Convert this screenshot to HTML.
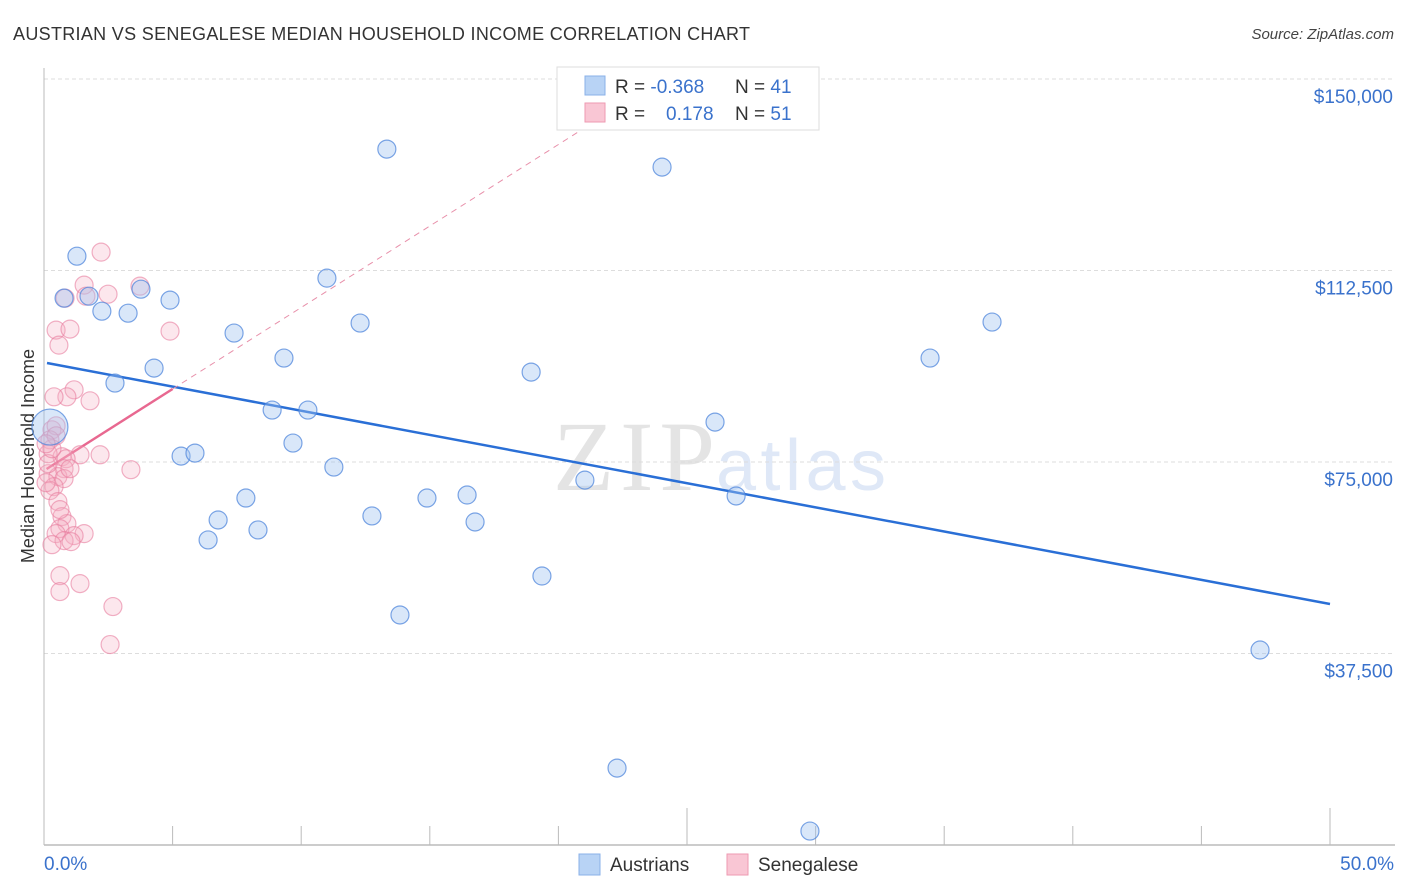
<!DOCTYPE html>
<html><head><meta charset="utf-8"><style>
body{margin:0;background:#fff;font-family:"Liberation Sans",sans-serif;}
svg{display:block}
</style></head><body>
<svg id="chart" width="1406" height="892" viewBox="0 0 1406 892" xmlns="http://www.w3.org/2000/svg">
<text x="13" y="40" font-size="18" fill="#333" textLength="737">AUSTRIAN VS SENEGALESE MEDIAN HOUSEHOLD INCOME CORRELATION CHART</text>
<text x="1394" y="39" font-size="15" fill="#444" font-style="italic" text-anchor="end">Source: ZipAtlas.com</text>
<g>
<text x="553" y="490" font-family="Liberation Serif,serif" font-size="100" fill="#e4e4e4" textLength="162">ZIP</text>
<text x="716" y="490" font-size="72" fill="#dfe8f7" textLength="170">atlas</text>
</g>
<g id="grid"></g>
<g id="axes"></g>
<text transform="translate(34,456) rotate(-90)" font-size="18" fill="#333" text-anchor="middle">Median Household Income</text>
<g id="trend"></g>
<g id="points"></g>
<g>
<rect x="557" y="67" width="262" height="63" fill="#fff" stroke="#ddd"/>
<rect x="585" y="76" width="20" height="19" fill="#b8d3f5" stroke="#8ab0e8"/>
<text x="615" y="93" font-size="19" fill="#333">R = <tspan fill="#3a72cc">-0.368</tspan></text>
<text x="735" y="93" font-size="19" fill="#333">N = <tspan fill="#3a72cc">41</tspan></text>
<rect x="585" y="103" width="20" height="19" fill="#f9c6d4" stroke="#ee9ab2"/>
<text x="615" y="120" font-size="19" fill="#333">R = </text>
<text x="666" y="120" font-size="19" fill="#3a72cc">0.178</text>
<text x="735" y="120" font-size="19" fill="#333">N = <tspan fill="#3a72cc">51</tspan></text>
</g>
<g>
<rect x="579" y="854" width="21" height="21" fill="#b8d3f5" stroke="#8ab0e8"/>
<text x="610" y="871" font-size="19" fill="#333">Austrians</text>
<rect x="727" y="854" width="21" height="21" fill="#f9c6d4" stroke="#ee9ab2"/>
<text x="758" y="871" font-size="19" fill="#333">Senegalese</text>
</g>
</svg>
<script>
const yTicks=[37500,75000,112500,150000];
const yTickLabels=["$37,500","$75,000","$112,500","$150,000"];
const xTickLabels=["0.0%","50.0%"];
const austX=[1.28,0.78,1.75,2.25,3.27,3.77,4.9,4.28,2.76,7.39,9.33,8.87,10.26,11.0,12.29,13.33,24.03,18.94,9.68,5.33,5.87,11.27,7.85,6.77,6.38,8.32,12.75,14.89,16.45,16.76,21.03,26.09,26.91,19.36,13.84,22.28,29.78,34.45,36.86,47.28,0.23];
const austY=[115990,107770,108160,105220,104830,109530,107380,94070,91140,100930,96040,85860,85860,111690,102890,136960,133430,93290,79390,76840,77430,74690,68630,64330,60420,62380,65120,68630,69220,63940,72140,83500,69030,53360,45730,15740,3410,96040,103090,38870,82530];
const senX=[2.22,1.56,3.73,1.63,0.82,0.47,1.01,0.58,4.9,1.17,0.89,0.39,0.31,0.47,0.23,1.4,2.18,0.7,0.86,0.16,0.78,3.38,0.16,0.54,0.78,0.39,0.23,0.54,0.7,0.89,0.62,0.47,1.56,1.17,0.78,1.05,0.31,1.4,0.62,0.62,2.68,2.57,0.16,0.31,0.08,1.01,2.49,0.47,1.79,0.62,0.08];
const senY=[116780,110320,110120,108160,107770,101510,101710,98570,101310,89820,88450,88450,81990,82770,80030,77100,77100,76710,76320,77300,74380,74180,73400,72820,72430,70860,70080,67930,64990,63620,62640,61660,61660,61270,60290,60090,59500,51870,53430,50310,47380,39940,75360,78280,71640,74380,108550,80810,87670,66360,79250];
const trendA=[0,94386,50,47193];
const trendS=[0.1,73629,5.0,89295,21.2,141000];
const NS="http://www.w3.org/2000/svg";
const X0=44,X1=1330,Y0=79,PXPER=191.5/37500,PT_OFF=3.5;
const xs=v=>X0+(v/50)*(X1-X0);
const ys=v=>Y0+(150000-v)*PXPER;
function mk(tag,attrs,parent){const e=document.createElementNS(NS,tag);for(const k in attrs)e.setAttribute(k,attrs[k]);parent.appendChild(e);return e;}
const grid=document.getElementById('grid'),axes=document.getElementById('axes'),pts=document.getElementById('points'),tr=document.getElementById('trend');
yTicks.forEach((t,i)=>{
 const l=mk('line',{x1:X0,x2:1393,y1:ys(t),y2:ys(t),stroke:'#ddd','stroke-dasharray':'4,3'},grid);
 
 
 const tx=mk('text',{x:1393,y:ys(t)+24,'font-size':19,fill:'#3a72cc','text-anchor':'end'},axes);
 tx.textContent=yTickLabels[i];
 
 
});
mk('line',{x1:X0,x2:X0,y1:68,y2:845,stroke:'#bbb'},axes);
mk('line',{x1:X0,x2:1395,y1:845,y2:845,stroke:'#bbb','stroke-width':1.5},axes);
for(let i=0;i<=10;i++){
 const x=xs(i*5);const long=(i==5||i==10);
 const tk=mk('line',{x1:x,x2:x,y1:long?808:826,y2:845,stroke:'#bbb'},axes);
 
 
}
const xl0=mk('text',{x:44,y:870,'font-size':19,fill:'#3a72cc'},axes);xl0.textContent=xTickLabels[0];


const xl1=mk('text',{x:1394,y:870,'font-size':19,fill:'#3a72cc','text-anchor':'end'},axes);xl1.textContent=xTickLabels[1];


senX.forEach((v,i)=>{
 const c=mk('circle',{cx:xs(v),cy:ys(senY[i])+PT_OFF,r:9,fill:'rgba(246,175,196,0.3)',stroke:'rgba(232,125,158,0.6)','stroke-width':1.2},pts);
 
 
});
austX.forEach((v,i)=>{
 const big=i==austX.length-1;
 const c=mk('circle',{cx:xs(v),cy:ys(austY[i])+PT_OFF,r:big?18:9,fill:'rgba(160,195,240,0.4)',stroke:'rgba(80,135,220,0.75)','stroke-width':1.2},pts);
 
 
});
const ta=mk('line',{x1:xs(trendA[0])+3,y1:ys(trendA[1]),x2:xs(trendA[2]),y2:ys(trendA[3]),stroke:'#2a6fd6','stroke-width':2.5},tr);


const tsd=mk('line',{x1:xs(trendS[2]),y1:ys(trendS[3]),x2:xs(trendS[4]),y2:ys(trendS[5]),stroke:'#e890aa','stroke-width':1,'stroke-dasharray':'6,5'},tr);


const ts=mk('line',{x1:xs(trendS[0]),y1:ys(trendS[1]),x2:xs(trendS[2]),y2:ys(trendS[3]),stroke:'#e86890','stroke-width':2.5},tr);


</script>
</body></html>
